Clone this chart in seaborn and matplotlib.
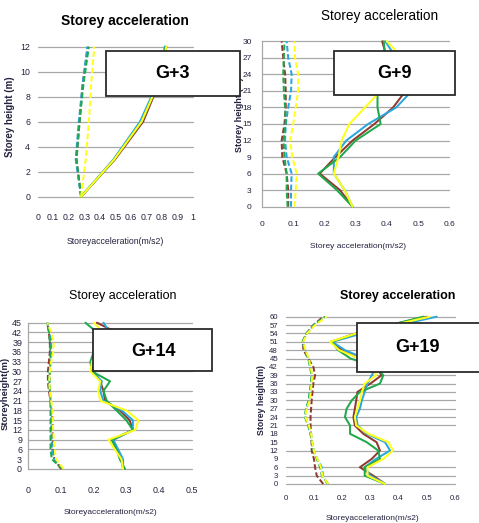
import numpy as np
import pandas as pd
import matplotlib
matplotlib.use("Agg")
import matplotlib.pyplot as plt
import seaborn as sns
from matplotlib.patches import Rectangle

# ---------------- data ----------------
SERIES = ["S1", "S2", "S3", "S4"]
COLORS = ["#8E3B2E", "#2BA6DE", "#1FA94B", "#FFFF1A"]

# G+3
H_G3 = [0, 3, 6, 9, 12]
G3_DASH_S1 = [0.28, 0.25, 0.27, 0.29, 0.325]
G3_DASH_S2 = [0.28, 0.245, 0.265, 0.29, 0.32]
G3_DASH_S3 = [0.28, 0.25, 0.27, 0.295, 0.33]
G3_DASH_S4 = [0.28, 0.31, 0.33, 0.345, 0.365]
G3_SOL_S1 = [0.28, 0.50, 0.68, 0.78, 0.83]
G3_SOL_S2 = [0.28, 0.49, 0.66, 0.77, 0.82]
G3_SOL_S3 = [0.28, 0.495, 0.67, 0.775, 0.825]
G3_SOL_S4 = [0.28, 0.495, 0.67, 0.775, 0.83]

# G+9
H_G9 = [0, 3, 6, 9, 12, 15, 18, 21, 24, 27, 30]
G9_DASH_S1 = [0.084, 0.084, 0.079, 0.065, 0.063, 0.072, 0.076, 0.076, 0.074, 0.068, 0.063]
G9_DASH_S2 = [0.093, 0.093, 0.095, 0.079, 0.074, 0.076, 0.084, 0.093, 0.095, 0.084, 0.079]
G9_DASH_S3 = [0.082, 0.079, 0.079, 0.072, 0.069, 0.076, 0.074, 0.070, 0.068, 0.070, 0.072]
G9_DASH_S4 = [0.104, 0.108, 0.111, 0.097, 0.090, 0.100, 0.108, 0.116, 0.116, 0.106, 0.104]
G9_SOL_S1 = [0.29, 0.25, 0.185, 0.235, 0.29, 0.36, 0.42, 0.46, 0.45, 0.40, 0.385]
G9_SOL_S2 = [0.29, 0.265, 0.23, 0.23, 0.27, 0.34, 0.43, 0.48, 0.47, 0.43, 0.395]
G9_SOL_S3 = [0.29, 0.24, 0.18, 0.25, 0.30, 0.38, 0.37, 0.37, 0.38, 0.395, 0.39]
G9_SOL_S4 = [0.29, 0.265, 0.23, 0.245, 0.255, 0.28, 0.33, 0.38, 0.43, 0.45, 0.40]

# G+14
H_G14 = [0, 3, 6, 9, 12, 15, 18, 21, 24, 27, 30, 33, 36, 39, 42, 45]
G14_DASH_S1 = [0.100, 0.080, 0.075, 0.075, 0.075, 0.074, 0.072, 0.068, 0.063, 0.060, 0.060, 0.063, 0.066, 0.066, 0.063, 0.058]
G14_DASH_S2 = [0.105, 0.080, 0.072, 0.072, 0.070, 0.070, 0.070, 0.068, 0.066, 0.064, 0.065, 0.068, 0.070, 0.070, 0.066, 0.058]
G14_DASH_S3 = [0.105, 0.072, 0.068, 0.068, 0.068, 0.068, 0.068, 0.068, 0.066, 0.065, 0.066, 0.068, 0.068, 0.066, 0.064, 0.058]
G14_DASH_S4 = [0.108, 0.085, 0.080, 0.078, 0.076, 0.075, 0.074, 0.070, 0.066, 0.064, 0.066, 0.070, 0.076, 0.078, 0.070, 0.058]
G14_SOL_S1 = [0.29, 0.285, 0.27, 0.26, 0.32, 0.31, 0.28, 0.235, 0.23, 0.22, 0.20, 0.21, 0.23, 0.25, 0.27, 0.21]
G14_SOL_S2 = [0.29, 0.29, 0.275, 0.26, 0.32, 0.32, 0.286, 0.23, 0.22, 0.225, 0.195, 0.20, 0.22, 0.24, 0.25, 0.23]
G14_SOL_S3 = [0.296, 0.28, 0.27, 0.255, 0.32, 0.30, 0.27, 0.24, 0.23, 0.25, 0.195, 0.19, 0.20, 0.20, 0.21, 0.175]
G14_SOL_S4 = [0.29, 0.285, 0.265, 0.245, 0.327, 0.337, 0.30, 0.22, 0.214, 0.22, 0.19, 0.195, 0.21, 0.22, 0.23, 0.20]

# G+19
H_G19 = [0, 3, 6, 9, 12, 15, 18, 21, 24, 27, 30, 33, 36, 39, 42, 45, 48, 51, 54, 57, 60]
G19_DASH_S1 = [0.133, 0.110, 0.104, 0.100, 0.092, 0.092, 0.090, 0.088, 0.088, 0.090, 0.092, 0.095, 0.098, 0.104, 0.098, 0.080, 0.063, 0.060, 0.074, 0.098, 0.133]
G19_DASH_S2 = [0.148, 0.132, 0.128, 0.112, 0.100, 0.094, 0.088, 0.080, 0.070, 0.072, 0.082, 0.086, 0.090, 0.092, 0.088, 0.080, 0.068, 0.060, 0.074, 0.100, 0.140]
G19_DASH_S3 = [0.150, 0.128, 0.122, 0.110, 0.098, 0.092, 0.088, 0.080, 0.068, 0.072, 0.082, 0.085, 0.090, 0.092, 0.086, 0.080, 0.068, 0.060, 0.074, 0.100, 0.140]
G19_DASH_S4 = [0.150, 0.130, 0.125, 0.112, 0.100, 0.094, 0.090, 0.082, 0.070, 0.074, 0.085, 0.088, 0.092, 0.094, 0.088, 0.082, 0.070, 0.062, 0.076, 0.104, 0.145]
G19_SOL_S1 = [0.352, 0.31, 0.263, 0.305, 0.334, 0.322, 0.275, 0.245, 0.24, 0.245, 0.25, 0.254, 0.30, 0.34, 0.32, 0.26, 0.20, 0.16, 0.25, 0.37, 0.50]
G19_SOL_S2 = [0.352, 0.30, 0.28, 0.32, 0.37, 0.352, 0.287, 0.255, 0.25, 0.263, 0.27, 0.28, 0.29, 0.305, 0.32, 0.28, 0.21, 0.165, 0.27, 0.40, 0.535]
G19_SOL_S3 = [0.352, 0.28, 0.28, 0.334, 0.328, 0.287, 0.228, 0.228, 0.21, 0.216, 0.234, 0.263, 0.334, 0.346, 0.32, 0.23, 0.186, 0.163, 0.25, 0.37, 0.488]
G19_SOL_S4 = [0.352, 0.29, 0.29, 0.346, 0.38, 0.364, 0.293, 0.25, 0.245, 0.254, 0.263, 0.27, 0.28, 0.32, 0.31, 0.26, 0.19, 0.157, 0.25, 0.38, 0.51]

X_TICKS_G3 = ["0", "0.1", "0.2", "0.3", "0.4", "0.5", "0.6", "0.7", "0.8", "0.9", "1"]
X_TICKS_G9 = ["0", "0.1", "0.2", "0.3", "0.4", "0.5", "0.6"]
X_TICKS_G14 = ["0", "0.1", "0.2", "0.3", "0.4", "0.5"]
X_TICKS_G19 = ["0", "0.1", "0.2", "0.3", "0.4", "0.5", "0.6"]
Y_TICKS_G3 = [0, 2, 4, 6, 8, 10, 12]
Y_TICKS_G9 = H_G9
Y_TICKS_G14 = H_G14
Y_TICKS_G19 = H_G19

TITLE = "Storey acceleration"
BOX_LABELS = ["G+3", "G+9", "G+14", "G+19"]
XLABELS = ["Storeyacceleration(m/s2)", "Storey acceleration(m/s2)",
           "Storeyacceleration(m/s2)", "Storeyacceleration(m/s2)"]
YLABELS = ["Storey height (m)", "Storey height (m)", "Storeyheight(m)", "Storey height(m)"]

# ---------------- style / layout ----------------
sns.set_theme(style="white")
plt.rcParams["font.family"] = ["Liberation Sans", "DejaVu Sans"]

W, H = 479, 523
fig = plt.figure(figsize=(W / 100, H / 100), dpi=100)
fig.patch.set_facecolor("white")


def fx(px):
    return px / W


def fy(py):
    return 1 - py / H


TXT = "#23233f"
GRID = "#A8A8A8"

panels = [
    dict(h=H_G3, dash=[G3_DASH_S1, G3_DASH_S2, G3_DASH_S3, G3_DASH_S4],
         sol=[G3_SOL_S1, G3_SOL_S2, G3_SOL_S3, G3_SOL_S4],
         xt=X_TICKS_G3, yt=Y_TICKS_G3, grid=Y_TICKS_G3,
         rect=(37.7, 46.7, 192.7, 196.7), title=(125, 21, "bold", 10),
         xl=(115, 241.5, 6.3), yl=(10, 117, 7), xpad=11.5, ypad=5.5, tfs=6.3, leftspine=False,
         box=(106, 51, 240, 96), boxtxt=(172, 74)),
    dict(h=H_G9, dash=[G9_DASH_S1, G9_DASH_S2, G9_DASH_S3, G9_DASH_S4],
         sol=[G9_SOL_S1, G9_SOL_S2, G9_SOL_S3, G9_SOL_S4],
         xt=X_TICKS_G9, yt=Y_TICKS_G9, grid=Y_TICKS_G9,
         rect=(262, 41.3, 449.3, 206.7), title=(380, 16, "normal", 9.8),
         xl=(358, 247, 6.0), yl=(239, 115, 6.5), xpad=10, ypad=7.5, tfs=6.0, leftspine=True,
         box=(334, 51, 455, 95), boxtxt=(395, 73)),
    dict(h=H_G14, dash=[G14_DASH_S1, G14_DASH_S2, G14_DASH_S3, G14_DASH_S4],
         sol=[G14_SOL_S1, G14_SOL_S2, G14_SOL_S3, G14_SOL_S4],
         xt=X_TICKS_G14, yt=Y_TICKS_G14, grid=[0, 6, 9, 12, 15, 18, 21, 24, 30, 33, 36, 39, 42, 45],
         rect=(28.3, 322.7, 191.7, 469), title=(123, 296, "normal", 9.0),
         xl=(110, 513, 6.0), yl=(5, 393, 6.8), xpad=12, ypad=4.5, tfs=6.4, leftspine=True,
         box=(93, 329, 212, 371), boxtxt=(153, 351)),
    dict(h=H_G19, dash=[G19_DASH_S1, G19_DASH_S2, G19_DASH_S3, G19_DASH_S4],
         sol=[G19_SOL_S1, G19_SOL_S2, G19_SOL_S3, G19_SOL_S4],
         xt=X_TICKS_G19, yt=Y_TICKS_G19,
         grid=[0, 3, 6, 12, 21, 24, 27, 30, 33, 36, 39, 42, 45, 48, 51, 54, 57, 60],
         rect=(285.7, 316.7, 455, 484), title=(398, 296, "bold", 9.0),
         xl=(372, 518, 6.0), yl=(261, 400, 6.3), xpad=8, ypad=5.5, tfs=5.6, leftspine=False,
         box=(357, 323, 484, 372), boxtxt=(418, 347)),
]

for i, p in enumerate(panels):
    l, t, r, b = p["rect"]
    ax = fig.add_axes([fx(l), fy(b), fx(r) - fx(l), fy(t) - fy(b)])
    ax.set_facecolor("white")

    rows = []
    for kind, group in (("dashed", p["dash"]), ("solid", p["sol"])):
        for name, vals in zip(SERIES, group):
            for hh, vv in zip(p["h"], vals):
                rows.append((name, kind, hh, vv))
    df = pd.DataFrame(rows, columns=["series", "kind", "height", "acc"])

    for yv in p["grid"]:
        ax.axhline(yv, color=GRID, lw=0.9, zorder=0)

    sns.lineplot(data=df, x="acc", y="height", hue="series", style="kind",
                 hue_order=SERIES, style_order=["dashed", "solid"],
                 palette=dict(zip(SERIES, COLORS)),
                 dashes={"dashed": (2.8, 1.3), "solid": ""},
                 estimator=None, sort=False, orient="y", linewidth=1.45,
                 legend=False, ax=ax)
    for ln in ax.lines:
        ln.set_clip_on(False)

    xvals = [float(s) for s in p["xt"]]
    ax.set_xlim(xvals[0], xvals[-1])
    ax.set_ylim(0, p["h"][-1])
    ax.set_xticks(xvals)
    ax.set_xticklabels(p["xt"])
    ax.set_yticks(p["yt"])
    ax.set_yticklabels([str(v) for v in p["yt"]])
    ax.tick_params(axis="x", length=0, pad=p["xpad"], labelsize=p["tfs"], labelcolor=TXT)
    ax.tick_params(axis="y", length=0, pad=p["ypad"], labelsize=p["tfs"], labelcolor=TXT)
    ax.grid(False)
    for s in ["top", "right", "bottom", "left"]:
        ax.spines[s].set_visible(False)
    if p["leftspine"]:
        ax.spines["left"].set_visible(True)
        ax.spines["left"].set_color(GRID)
        ax.spines["left"].set_linewidth(0.9)

    xlx, xly, xfs = p["xl"]
    ax.set_xlabel(XLABELS[i], fontsize=xfs, color=TXT, va="center")
    ax.xaxis.set_label_coords(fx(xlx), fy(xly), transform=fig.transFigure)
    ylx, yly, yfs = p["yl"]
    ax.set_ylabel(YLABELS[i], fontsize=yfs, color=TXT, fontweight="bold", va="center")
    ax.yaxis.set_label_coords(fx(ylx), fy(yly), transform=fig.transFigure)

    tx, ty, tw, tfs = p["title"]
    fig.text(fx(tx), fy(ty), TITLE, ha="center", va="center", fontsize=tfs,
             fontweight=tw, color="black")

for i, p in enumerate(panels):
    bl, bt, br, bb = p["box"]
    fig.add_artist(Rectangle((fx(bl), fy(bb)), fx(br) - fx(bl), fy(bt) - fy(bb),
                             transform=fig.transFigure, facecolor="white",
                             edgecolor="#2b2b2b", linewidth=1.3, zorder=10))
    bx, by = p["boxtxt"]
    fig.text(fx(bx), fy(by), BOX_LABELS[i], ha="center", va="center",
             fontsize=13, fontweight="bold", color="black", zorder=11)

fig.savefig("out.png", dpi=100, facecolor="white")
